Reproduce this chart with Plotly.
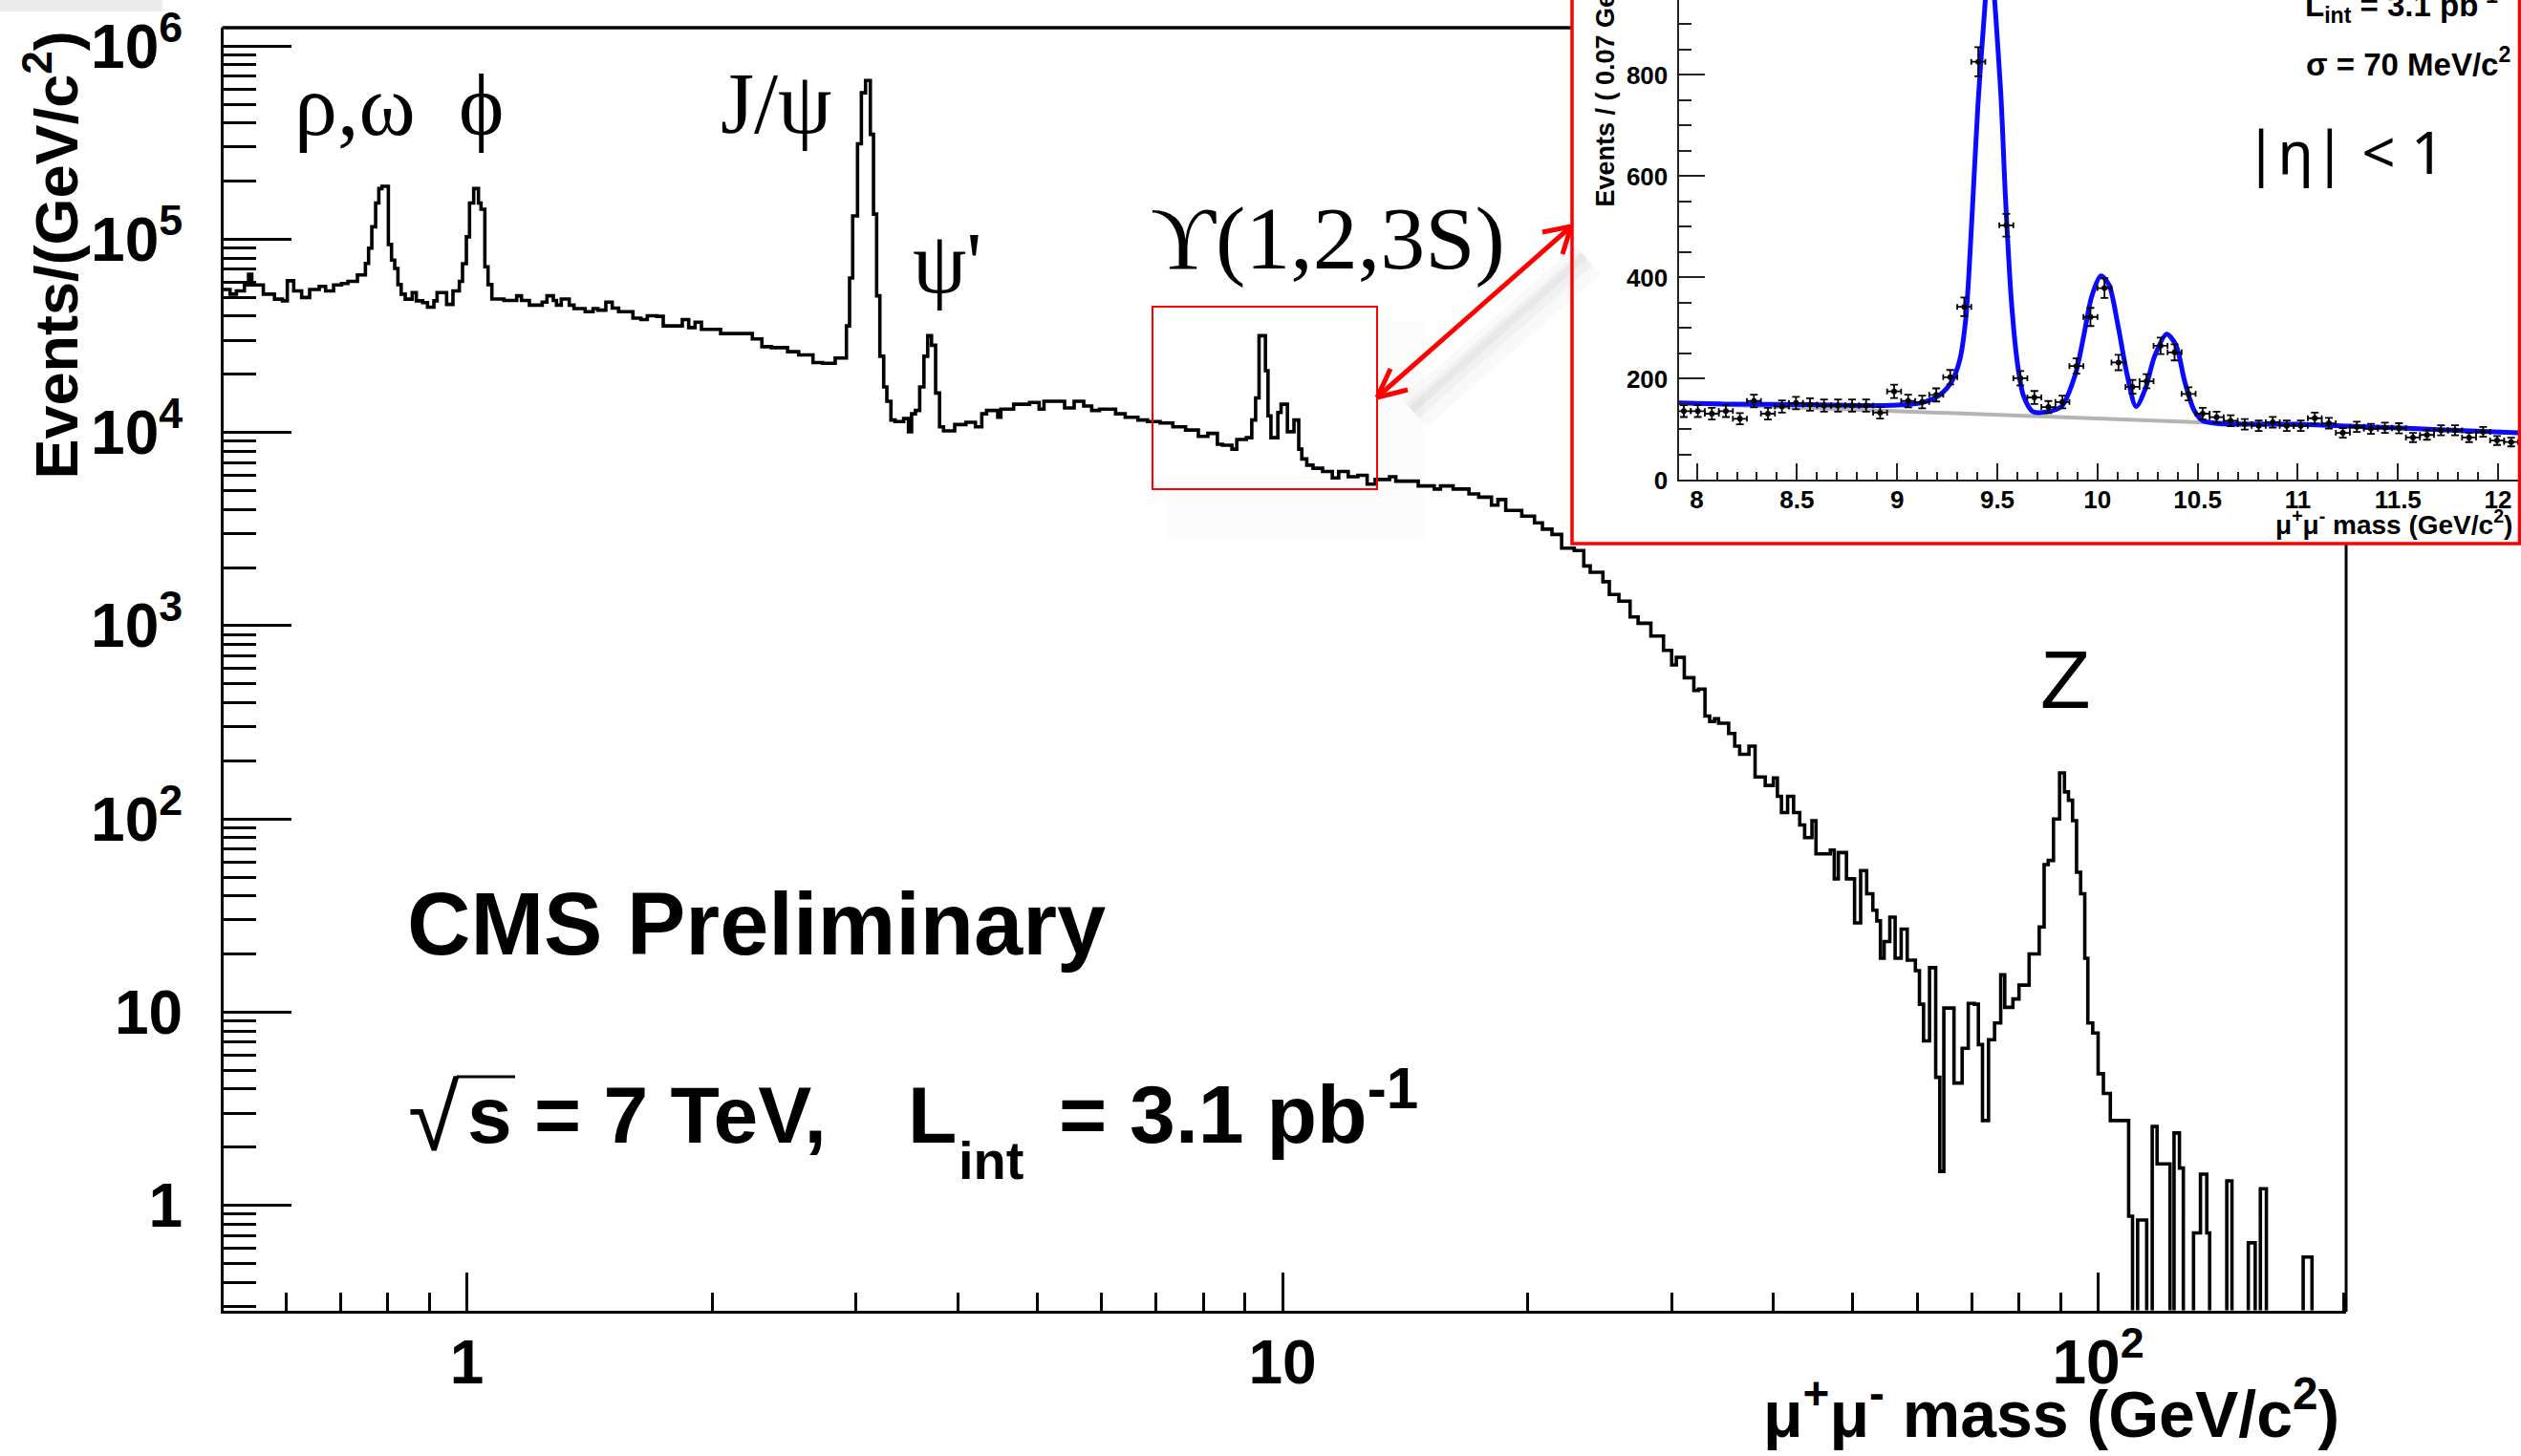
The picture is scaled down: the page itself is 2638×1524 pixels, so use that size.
import math
import plotly.graph_objects as go

W, H = 2638, 1524

# ------------------------------------------------------------------ data
# main spectrum: histogram bins (low edge in GeV/c^2) and content in events/(GeV/c^2)
bin_low_edge_gev = [
    0.500, 0.5125, 0.5218, 0.5337, 0.5400, 0.5449, 0.5630, 0.5810, 0.5942, 0.6024,
    0.6134, 0.6273, 0.6416, 0.6592, 0.6712, 0.6865, 0.7021, 0.7148, 0.7343, 0.7510,
    0.7578, 0.7647, 0.7730, 0.7800, 0.7870, 0.8013, 0.8085, 0.8158, 0.8232, 0.8308,
    0.8404, 0.8571, 0.8671, 0.8828, 0.8949, 0.9112, 0.9194, 0.9445, 0.9616, 0.9791,
    0.9879, 0.9987, 1.0076, 1.0195, 1.0334, 1.0409, 1.0522, 1.0617, 1.0732, 1.1104,
    1.1511, 1.1668, 1.1932, 1.2370, 1.2538, 1.2765, 1.2880, 1.3056, 1.3352, 1.3533,
    1.3966, 1.4284, 1.4478, 1.4806, 1.5074, 1.5348, 1.5982, 1.6346, 1.6643, 1.7097,
    1.7410, 1.8373, 1.8707, 1.9047, 1.9393,
    2.047, 2.239, 2.300, 2.363, 2.473, 2.552, 2.657, 2.730, 2.829, 2.920,
    2.946, 2.972, 3.013, 3.046, 3.082, 3.124, 3.152, 3.180, 3.209, 3.244,
    3.273, 3.311, 3.350, 3.432, 3.479, 3.510, 3.548, 3.591, 3.634, 3.673,
    3.713, 3.756, 3.798, 3.841, 3.964, 4.091, 4.203, 4.279, 4.337, 4.476,
    4.516, 4.682, 4.897, 5.031, 5.100, 5.406, 5.554, 5.706, 5.836, 5.969,
    6.243, 6.414, 6.649, 6.831, 7.079, 7.338, 7.607, 7.886, 8.101,
    8.322, 8.44, 8.67, 8.79, 9.03, 9.17, 9.27, 9.36, 9.53, 9.60,
    9.68, 9.87, 9.96, 10.14, 10.33, 10.47, 10.56, 10.71, 10.90, 11.20,
    11.51, 11.72, 12.04, 12.37, 12.70, 12.99, 13.53, 13.77, 14.67, 15.35,
    15.62, 16.19, 16.93, 17.40, 18.04, 18.37, 18.78, 19.65, 20.37, 20.83,
    21.40, 21.99, 22.79, 23.41, 23.84, 24.71, 25.16, 25.85, 26.68, 27.29,
    28.29, 29.32, 30.00, 30.40, 31.09, 31.94, 32.37, 32.96, 33.40,
    33.86, 34.25, 35.24, 35.85, 36.35, 37.32, 37.97, 39.07, 39.98, 40.44,
    40.90, 41.62, 42.33, 43.07, 43.67, 44.58, 45.09, 46.95, 47.48, 48.03,
    49.14, 50.28, 51.15, 52.03, 52.94, 53.54, 54.09, 54.66, 55.54, 56.38,
    57.35, 58.34, 59.70, 60.39, 61.09, 62.13, 63.22, 63.96, 64.69, 66.57,
    68.12, 69.31, 70.52, 71.32, 72.15, 73.39, 74.65, 75.96, 76.83, 78.62,
    79.98, 82.30, 84.68, 85.86, 86.86, 88.16, 89.69, 90.93, 91.97, 93.04,
    94.09, 95.18, 96.30, 97.14, 98.49, 100.0, 101.5, 103.5, 109.0, 110.2,
    111.8, 114.7, 116.5, 118.1, 122.5, 123.9, 125.8, 127.2, 130.9, 133.5,
    135.9, 137.0, 143.8, 145.9, 152.8, 155.8, 158.1, 160.8, 178.4, 182.9,
]
last_edge_gev = 200.0

events_per_gev = [
    5.5e4, 5.2e4, 5.4e4, 5.8e4, 6.6e4, 5.8e4, 5.2e4, 4.9e4, 4.8e4, 6.1e4,
    5.4e4, 5.0e4, 5.5e4, 5.7e4, 5.4e4, 5.8e4, 5.9e4, 6.06e4, 6.54e4, 7.5e4,
    9.0e4, 1.16e5, 1.54e5, 1.83e5, 1.88e5, 9.4e4, 7.8e4, 7.06e4, 5.83e4, 5.2e4,
    4.9e4, 5.3e4, 4.8e4, 4.7e4, 4.45e4, 4.8e4, 5.3e4, 4.6e4, 5.4e4, 6.06e4,
    7.47e4, 1.03e5, 1.54e5, 1.83e5, 1.54e5, 1.43e5, 7.2e4, 5.83e4, 4.91e4, 4.82e4,
    5.1e4, 4.82e4, 4.56e4, 4.73e4, 5.1e4, 4.82e4, 4.56e4, 4.91e4, 4.56e4, 4.38e4,
    4.22e4, 4.38e4, 4.3e4, 4.73e4, 4.4e4, 4.22e4, 3.91e4, 3.84e4, 4.02e4, 3.99e4,
    3.56e4, 3.84e4, 3.49e4, 3.72e4, 3.42e4,
    3.25e4, 3.05e4, 2.78e4, 2.75e4, 2.62e4, 2.52e4, 2.30e4, 2.28e4, 2.43e4, 3.56e4,
    6.3e4, 1.32e5, 3.12e5, 5.73e5, 6.63e5, 3.49e5, 1.35e5, 5.1e4, 2.48e4, 1.72e4,
    1.45e4, 1.16e4, 1.14e4, 1.18e4, 1.01e4, 1.25e4, 1.30e4, 1.72e4, 2.48e4, 3.17e4,
    2.83e4, 1.6e4, 1.07e4, 1.02e4, 1.1e4, 1.13e4, 1.07e4, 1.25e4, 1.30e4, 1.2e4,
    1.32e4, 1.40e4, 1.43e4, 1.32e4, 1.45e4, 1.34e4, 1.45e4, 1.37e4, 1.30e4, 1.32e4,
    1.25e4, 1.2e4, 1.16e4, 1.14e4, 1.12e4, 1.07e4, 1.03e4, 9.55e3, 9.9e3,
    8.69e3, 8.6e3, 8.2e3, 9.2e3, 9.4e3, 1.16e4, 1.51e4, 3.17e4, 2.09e4, 1.22e4,
    9.4e3, 1.27e4, 1.40e4, 1.01e4, 1.16e4, 8.2e3, 7.3e3, 6.78e3, 6.53e3, 6.28e3,
    5.82e3, 6.28e3, 5.9e3, 6.0e3, 5.4e3, 5.71e3, 5.9e3, 5.6e3, 5.29e3, 5.1e3,
    5.29e3, 5.1e3, 4.81e3, 4.63e3, 4.21e3, 4.5e3, 3.95e3, 3.69e3, 3.41e3, 3.16e3,
    2.97e3, 2.52e3, 2.45e3, 2.04e3, 1.89e3, 1.69e3, 1.45e3, 1.34e3, 1.11e3, 1.03e3,
    884, 745, 627, 686, 538, 462, 470, 341, 319,
    330, 313, 277, 238, 216, 238, 165, 149, 163, 131,
    108, 131, 108, 93, 80, 98, 66, 69, 49, 67,
    49, 29, 54, 41, 33.7, 29.7, 19, 23.2, 31, 19,
    26.9, 18.6, 16.4, 11, 7.1, 17, 4.6, 1.5, 10.5, 4.3,
    6.5, 11.1, 11, 6.8, 2.75, 7.2, 8.8, 15.6, 10.6, 11.7,
    13.8, 20, 27.6, 58, 61, 100, 173, 138, 125, 98,
    53, 41, 19, 8.8, 7.8, 4.8, 3.8, 2.75, 0.88, 0,
    0.84, 0, 2.56, 1.64, 0, 2.37, 1.56, 0, 0.72, 1.45,
    0.72, 0, 1.34, 0, 0.64, 0, 1.22, 0, 0.54, 0,
]

# inset: Upsilon region, 60 bins of 0.07 GeV starting at 7.9 GeV
inset_first_edge = 7.9
inset_bin_width = 0.07
inset_counts = [
    136, 136, 131, 136, 121, 156, 131, 145, 152, 149,
    147, 147, 147, 147, 133, 175, 156, 154, 168, 203,
    342, 826, 990, 503, 201, 163, 144, 154, 225, 322,
    379, 232, 184, 195, 265, 252, 170, 131, 124, 117,
    110, 107, 114, 107, 107, 122, 112, 93, 105, 101,
    103, 102, 84, 89, 98, 98, 84, 95, 78, 75,
]
# fitted total curve
fit_mass = [7.909, 8.143, 8.568, 8.933, 9.115, 9.206, 9.267, 9.312, 9.343, 9.373,
            9.403, 9.434, 9.462, 9.516, 9.540, 9.570, 9.601, 9.631, 9.677, 9.753,
            9.820, 9.889, 9.935, 9.971, 10.017, 10.057, 10.102, 10.148, 10.193, 10.239,
            10.284, 10.345, 10.391, 10.436, 10.482, 10.527, 10.998, 11.545, 12.1]
fit_events = [152, 150, 149, 147, 152, 166, 191, 236, 320, 515,
              739, 913, 1040, 773, 564, 355, 229, 166, 135, 135,
              145, 208, 292, 362, 403, 386, 306, 208, 145, 180,
              243, 288, 267, 194, 138, 117, 110, 102, 93]
# fitted background
bkg_mass = [7.909, 9.0, 10.0, 10.5, 11.0, 11.545, 12.1]
bkg_events = [152, 136, 120, 114, 110, 102, 93]

# axis ticks
main_x_tickvals = [1, 10, 100]
main_x_ticktext = ["1", "10", "10<sup>2</sup>"]
main_y_tickvals = [1, 10, 100, 1e3, 1e4, 1e5, 1e6]
main_y_ticktext = ["1", "10", "10<sup>2</sup>", "10<sup>3</sup>", "10<sup>4</sup>",
                   "10<sup>5</sup>", "10<sup>6</sup>"]
inset_x_tickvals = [8, 8.5, 9, 9.5, 10, 10.5, 11, 11.5, 12]
inset_x_ticktext = ["8", "8.5", "9", "9.5", "10", "10.5", "11", "11.5", "12"]
inset_y_tickvals = [0, 200, 400, 600, 800]

# ------------------------------------------------------------------ helpers
def PX(x):
    return x / W


def PY(y):
    return 1 - y / H


SANS = "Liberation Sans, Arial, Helvetica, sans-serif"
SERIF = "Liberation Serif, Times New Roman, DejaVu Serif, serif"

# main axis pixel geometry
X_LEFT, X_RIGHT = 234.0, 2455.0
Y_TOP, Y_BOT = 29.0, 1371.5
X_ONE, X_DEC = 488.5, 853.5       # pixel of m=1 and pixels per decade
Y_ONE, Y_DEC = 1261.7, 202.25     # pixel of 1 event and pixels per decade

x_range = [(X_LEFT - X_ONE) / X_DEC, (X_RIGHT - X_ONE) / X_DEC]
y_range = [(Y_ONE - Y_BOT) / Y_DEC, (Y_ONE - Y_TOP) / Y_DEC]

y_minor = [d * 10 ** k for k in range(-1, 6) for d in range(2, 10)
           if 10 ** y_range[0] < d * 10 ** k < 10 ** y_range[1]]
x_minor = [d * 10 ** k for k in range(-1, 3) for d in range(2, 10)
           if 10 ** x_range[0] < d * 10 ** k <= 10 ** x_range[1]]
inset_x_minor = [round(7.9 + 0.1 * i, 2) for i in range(43)]
inset_x_minor = [v for v in inset_x_minor if abs(v * 2 - round(v * 2)) > 1e-6]
inset_y_minor = [v for v in range(50, 950, 50) if v % 200 != 0]

# ------------------------------------------------------------------ figure
fig = go.Figure()

hist_x = bin_low_edge_gev + [last_edge_gev]
floor = 1e-3
hist_y = [v if v > 0 else floor for v in events_per_gev]
hist_y = hist_y + [hist_y[-1]]
fig.add_trace(go.Scatter(
    x=hist_x, y=hist_y, mode="lines", xaxis="x", yaxis="y",
    line=dict(color="black", width=3.6, shape="hv"),
    hoverinfo="skip", showlegend=False))

# inset traces
centers = [inset_first_edge + inset_bin_width * (i + 0.5) for i in range(len(inset_counts))]
fig.add_trace(go.Scatter(
    x=bkg_mass, y=bkg_events, mode="lines", xaxis="x2", yaxis="y2",
    line=dict(color="#b4b4b4", width=4), hoverinfo="skip", showlegend=False))
fig.add_trace(go.Scatter(
    x=fit_mass, y=fit_events, mode="lines", xaxis="x2", yaxis="y2",
    line=dict(color="#0a0aff", width=5, shape="spline", smoothing=0.8),
    hoverinfo="skip", showlegend=False))
fig.add_trace(go.Scatter(
    x=centers, y=inset_counts, mode="markers", xaxis="x2", yaxis="y2",
    marker=dict(color="black", size=6),
    error_y=dict(type="data", array=[math.sqrt(c) for c in inset_counts],
                 color="black", thickness=1.8, width=4),
    error_x=dict(type="constant", value=inset_bin_width / 2,
                 color="black", thickness=1.8, width=3),
    hoverinfo="skip", showlegend=False))

tick_font_main = dict(family=SANS, size=64, color="black", weight="bold")
tick_font_inset = dict(family=SANS, size=26, color="black", weight="bold")

fig.update_layout(
    width=W, height=H,
    margin=dict(l=0, r=0, t=0, b=0, autoexpand=False),
    paper_bgcolor="white", plot_bgcolor="rgba(0,0,0,0)",
    showlegend=False,
    xaxis=dict(
        type="log", domain=[PX(X_LEFT), PX(X_RIGHT)], range=x_range, anchor="y",
        automargin=False,
        showline=True, linecolor="black", linewidth=3, mirror=False,
        showgrid=False, zeroline=False,
        ticks="inside", ticklen=40, tickwidth=3, tickcolor="black",
        tickmode="array", tickvals=main_x_tickvals, ticktext=main_x_ticktext,
        tickfont=tick_font_main, ticklabelstandoff=-3,
        minor=dict(tickmode="array", tickvals=x_minor, ticks="inside",
                   ticklen=19, tickwidth=3, tickcolor="black", showgrid=False),
    ),
    yaxis=dict(
        type="log", domain=[PY(Y_BOT), PY(Y_TOP)], range=y_range, anchor="x",
        automargin=False,
        showline=True, linecolor="black", linewidth=3, mirror=False,
        showgrid=False, zeroline=False,
        ticks="inside", ticklen=71, tickwidth=3, tickcolor="black",
        tickmode="array", tickvals=main_y_tickvals, ticktext=main_y_ticktext,
        tickfont=tick_font_main, ticklabelstandoff=27,
        minor=dict(tickmode="array", tickvals=y_minor, ticks="inside",
                   ticklen=34, tickwidth=3, tickcolor="black", showgrid=False),
    ),
    xaxis2=dict(
        domain=[PX(1756.5), PX(2635)], range=[7.909, 12.1], anchor="y2",
        automargin=False,
        showline=True, linecolor="#222222", linewidth=2,
        showgrid=False, zeroline=False,
        ticks="inside", ticklen=17, tickwidth=2, tickcolor="#222222",
        tickmode="array", tickvals=inset_x_tickvals, ticktext=inset_x_ticktext,
        tickfont=tick_font_inset, ticklabelstandoff=-4,
        minor=dict(tickmode="array", tickvals=inset_x_minor, ticks="inside",
                   ticklen=8, tickwidth=2, tickcolor="#222222", showgrid=False),
    ),
    yaxis2=dict(
        domain=[PY(502.4), 1.0], range=[0, 948], anchor="x2",
        automargin=False,
        showline=True, linecolor="#222222", linewidth=2,
        showgrid=False, zeroline=False,
        ticks="inside", ticklen=27, tickwidth=2, tickcolor="#222222",
        tickmode="array", tickvals=inset_y_tickvals,
        tickfont=tick_font_inset, ticklabelstandoff=4,
        minor=dict(tickmode="array", tickvals=inset_y_minor, ticks="inside",
                   ticklen=13, tickwidth=2, tickcolor="#222222", showgrid=False),
    ),
)

# ------------------------------------------------------------------ shapes
shapes = []


def line(x0, y0, x1, y1, color="black", width=3, layer="above"):
    shapes.append(dict(type="line", xref="paper", yref="paper",
                       x0=PX(x0), y0=PY(y0), x1=PX(x1), y1=PY(y1),
                       line=dict(color=color, width=width), layer=layer))


def rect(x0, y0, x1, y1, fill="rgba(0,0,0,0)", color=None, width=0, layer="above"):
    d = dict(type="rect", xref="paper", yref="paper",
             x0=PX(x0), y0=PY(y0), x1=PX(x1), y1=PY(y1),
             fillcolor=fill, layer=layer)
    if color:
        d["line"] = dict(color=color, width=width)
    else:
        d["line"] = dict(width=0)
    shapes.append(d)


# faint grey band top-left
rect(0, 0, 170, 12, fill="#ececec", layer="below")
# soft shadows
line(1480, 432, 1662, 272, color="rgba(0,0,0,0.022)", width=40, layer="below")
line(1478, 430, 1660, 270, color="rgba(0,0,0,0.03)", width=20, layer="below")
line(1477, 429, 1658, 268, color="rgba(0,0,0,0.035)", width=8, layer="below")
rect(1443, 335, 1490, 565, fill="rgba(0,0,0,0.01)", layer="below")
rect(1222, 513, 1443, 565, fill="rgba(0,0,0,0.01)", layer="below")

# frame top / right (partly hidden by the inset picture)
line(X_LEFT - 1.5, Y_TOP, 1645, Y_TOP, width=3.5)
line(X_RIGHT, 569, X_RIGHT, Y_BOT + 1.5, width=3)

# red box around the Upsilon region
rect(1206, 321, 1441, 512, color="#ff0000", width=2)
# inset border
rect(1645, 569, 2636.5, -10, color="#ff0000", width=3.5)
# double arrow
line(1443, 414, 1643, 238, color="#ff0000", width=5)
line(1441, 416, 1455, 386, color="#ff0000", width=5)
line(1441, 416, 1473, 408, color="#ff0000", width=5)
line(1644, 237, 1614, 243, color="#ff0000", width=5)
line(1644, 237, 1635, 266, color="#ff0000", width=5)
# overline of the square root
line(478, 1127, 539, 1127, width=3)

fig.update_layout(shapes=shapes)

# ------------------------------------------------------------------ annotations
anns = []


def ann(text, X, Y, xanchor, yanchor, size, family=SANS, weight="normal", angle=0):
    anns.append(dict(text=text, x=PX(X), y=PY(Y), xref="paper", yref="paper",
                     xanchor=xanchor, yanchor=yanchor, showarrow=False,
                     textangle=angle,
                     font=dict(family=family, size=size, color="black", weight=weight)))


# resonance labels
ann("ρ,ω", 371.5, 162.4, "center", "bottom", 90, SERIF)
ann("ϕ", 503, 162.4, "center", "bottom", 90, SERIF)
ann("J/ψ", 812, 160.4, "center", "bottom", 90, SERIF)
ann("ψ'", 991, 327.4, "center", "bottom", 90, SERIF)
ann("ϒ(1,2,3S)", 1389.5, 303, "center", "bottom", 94, SERIF)
ann("Z", 2161.5, 761, "center", "bottom", 86, SANS)

# CMS texts
ann("CMS Preliminary", 424, 1020, "left", "bottom", 92, SANS, "bold")
ann("√", 425, 1227, "left", "bottom", 98, SANS)
ann("s = 7 TeV,", 487, 1216, "left", "bottom", 84, SANS, "bold")
ann("L", 948, 1216, "left", "bottom", 84, SANS, "bold")
ann("int", 1001, 1248, "left", "bottom", 56, SANS, "bold")
ann("= 3.1 pb<sup>-1</sup>", 1106, 1216, "left", "bottom", 86, SANS, "bold")

# axis titles
ann("μ<sup>+</sup>μ<sup>-</sup> mass (GeV/c<sup>2</sup>)", 2450, 1520, "right", "bottom",
    68, SANS, "bold")
ann("Events/(GeV/c<sup>2</sup>)", 12, 267, "left", "middle", 63, SANS, "bold", -90)

# inset texts
ann("L<sub>int</sub> = 3.1 pb<sup>-1</sup>", 2616, 31.5, "right", "bottom", 33, SANS, "bold")
ann("σ = 70 MeV/c<sup>2</sup>", 2629, 87.5, "right", "bottom", 33, SANS, "bold")
ann("|η| < 1", 2453, 158, "center", "middle", 62, "Noto Sans, DejaVu Sans, sans-serif")
ann("Events / ( 0.07 GeV/c<sup>2</sup> )", 1659, 219, "left", "bottom", 27, SANS, "bold", -90)
ann("μ<sup>+</sup>μ<sup>-</sup> mass (GeV/c<sup>2</sup>)", 2631, 567, "right", "bottom",
    28, SANS, "bold")

fig.update_layout(annotations=anns)

fig.write_html("out.html")
